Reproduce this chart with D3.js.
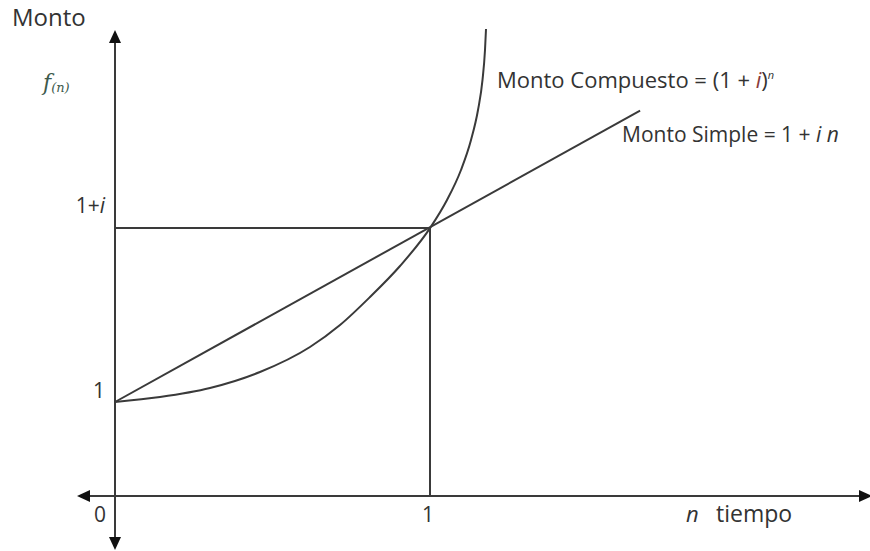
<!DOCTYPE html>
<html>
<head>
<meta charset="utf-8">
<script src="https://cdn.jsdelivr.net/npm/d3@7"></script>
<style>
  body { margin: 0; background: #fff; }
  text { font-family: "Open Sans", sans-serif; fill: #333; }
</style>
</head>
<body>
<div id="chart"></div>
<script>
// n (time) vs monto, in units where the horizontal axis is 0
const interest = 1.85;
const simpleN = [0, 1.667];
const simpleV = [1.0, 4.1];
const compoundN = [0, 0.1429, 0.3016, 0.4603, 0.619, 0.7143, 0.8095, 0.9048, 1.0, 1.054, 1.0984, 1.1302, 1.1524, 1.1667, 1.1746, 1.1778];
const compoundV = [1.0, 1.0532, 1.1489, 1.3191, 1.5851, 1.8191, 2.117, 2.4468, 2.85, 3.149, 3.468, 3.787, 4.106, 4.426, 4.745, 4.968];
const xTicks = [0, 1];
const xTickLabels = ['0', '1'];
const yTicks = [1, 1 + interest];
const yTickLabels = ['1', '1+'];

drawChart();

function drawChart() {
    const width = 870;
    const height = 551;

    const svg = d3.select('#chart')
        .append('svg')
            .attr('width', width)
            .attr('height', height);

    // scales
    const x = d3.scaleLinear()
        .domain([0, 1])
        .range([115, 430]);
    const y = d3.scaleLinear()
        .domain([0, 1])
        .range([496, 402]);

    const ink = '#3a3a3a';

    // axes (with arrows at both ends)
    const xMin = x.invert(77), xMax = x.invert(872);
    const yMin = y.invert(550), yMax = y.invert(30);

    svg.append('line')
        .attr('x1', x(xMin) + 8).attr('x2', x(xMax) - 8)
        .attr('y1', y(0)).attr('y2', y(0))
        .attr('stroke', ink).attr('stroke-width', 2);
    svg.append('line')
        .attr('x1', x(0)).attr('x2', x(0))
        .attr('y1', y(yMin) - 8).attr('y2', y(yMax) + 8)
        .attr('stroke', ink).attr('stroke-width', 2);

    const arrow = (tx, ty, rot) => svg.append('path')
        .attr('d', 'M0,0 L-6,13 L6,13 Z')
        .attr('fill', '#111')
        .attr('transform', `translate(${tx},${ty}) rotate(${rot})`);
    arrow(x(0), y(yMax), 0);
    arrow(x(0), y(yMin), 180);
    arrow(x(xMin), y(0), -90);
    arrow(x(xMax), y(0), 90);

    // guide lines at n = 1
    svg.append('path')
        .attr('fill', 'none')
        .attr('stroke', ink)
        .attr('stroke-width', 2)
        .attr('d', `M${x(0)},${y(1 + interest)} H${x(1)} V${y(0)}`);

    // simple line
    svg.append('path')
        .attr('fill', 'none')
        .attr('stroke', ink)
        .attr('stroke-width', 2)
        .attr('d', d3.line()
            .x((d, i) => x(simpleN[i]))
            .y(d => y(d))(simpleV));

    // compound curve
    svg.append('path')
        .attr('fill', 'none')
        .attr('stroke', ink)
        .attr('stroke-width', 2)
        .attr('d', d3.line()
            .curve(d3.curveMonotoneX)
            .x((d, i) => x(compoundN[i]))
            .y(d => y(d))(compoundV));

    // tick labels
    svg.selectAll('.xt')
        .data(xTicks)
        .join('text')
            .attr('x', (d, i) => x(d) - (i === 0 ? 15 : 2))
            .attr('y', y(0) + 26)
            .attr('text-anchor', 'middle')
            .style('font-size', '21px')
            .text((d, i) => xTickLabels[i]);

    const yt = svg.selectAll('.yt')
        .data(yTicks)
        .join('text')
            .attr('x', x(0) - 10)
            .attr('y', (d, i) => y(d) + (i === 0 ? -4 : -15))
            .attr('text-anchor', 'end')
            .style('font-size', '21px')
            .text((d, i) => yTickLabels[i]);
    yt.filter((d, i) => i === 1)
        .append('tspan')
            .style('font-style', 'italic')
            .text('i');

    // titles
    svg.append('text')
        .attr('x', 12).attr('y', 26)
        .style('font-size', '24px')
        .text('Monto');

    const f = svg.append('text')
        .attr('x', 43).attr('y', 90)
        .style('font-family', '"DejaVu Serif", serif')
        .style('font-style', 'italic')
        .style('fill', '#3d5a4c')
        .style('font-size', '22px')
        .text('f');
    f.append('tspan')
        .style('font-size', '13px')
        .attr('dy', 2)
        .text('(n)');

    svg.append('text')
        .attr('x', 686).attr('y', y(0) + 26)
        .style('font-size', '22px')
        .style('font-style', 'italic')
        .text('n');
    svg.append('text')
        .attr('x', 716).attr('y', y(0) + 26)
        .style('font-size', '23px')
        .text('tiempo');

    const comp = svg.append('text')
        .attr('x', 497).attr('y', 88)
        .style('font-size', '22px')
        .text('Monto Compuesto = (1 + ');
    comp.append('tspan').style('font-style', 'italic').style('fill', '#8a3b3b').text('i');
    comp.append('tspan').text(')');
    comp.append('tspan').attr('dy', -9).style('font-size', '11px').style('font-style', 'italic').text('n');

    const simp = svg.append('text')
        .attr('x', 622).attr('y', 142)
        .style('font-size', '21px')
        .text('Monto Simple = 1 + ');
    simp.append('tspan').style('font-style', 'italic').text('i');
    simp.append('tspan').style('font-style', 'italic').text(' n');
}
</script>
</body>
</html>
